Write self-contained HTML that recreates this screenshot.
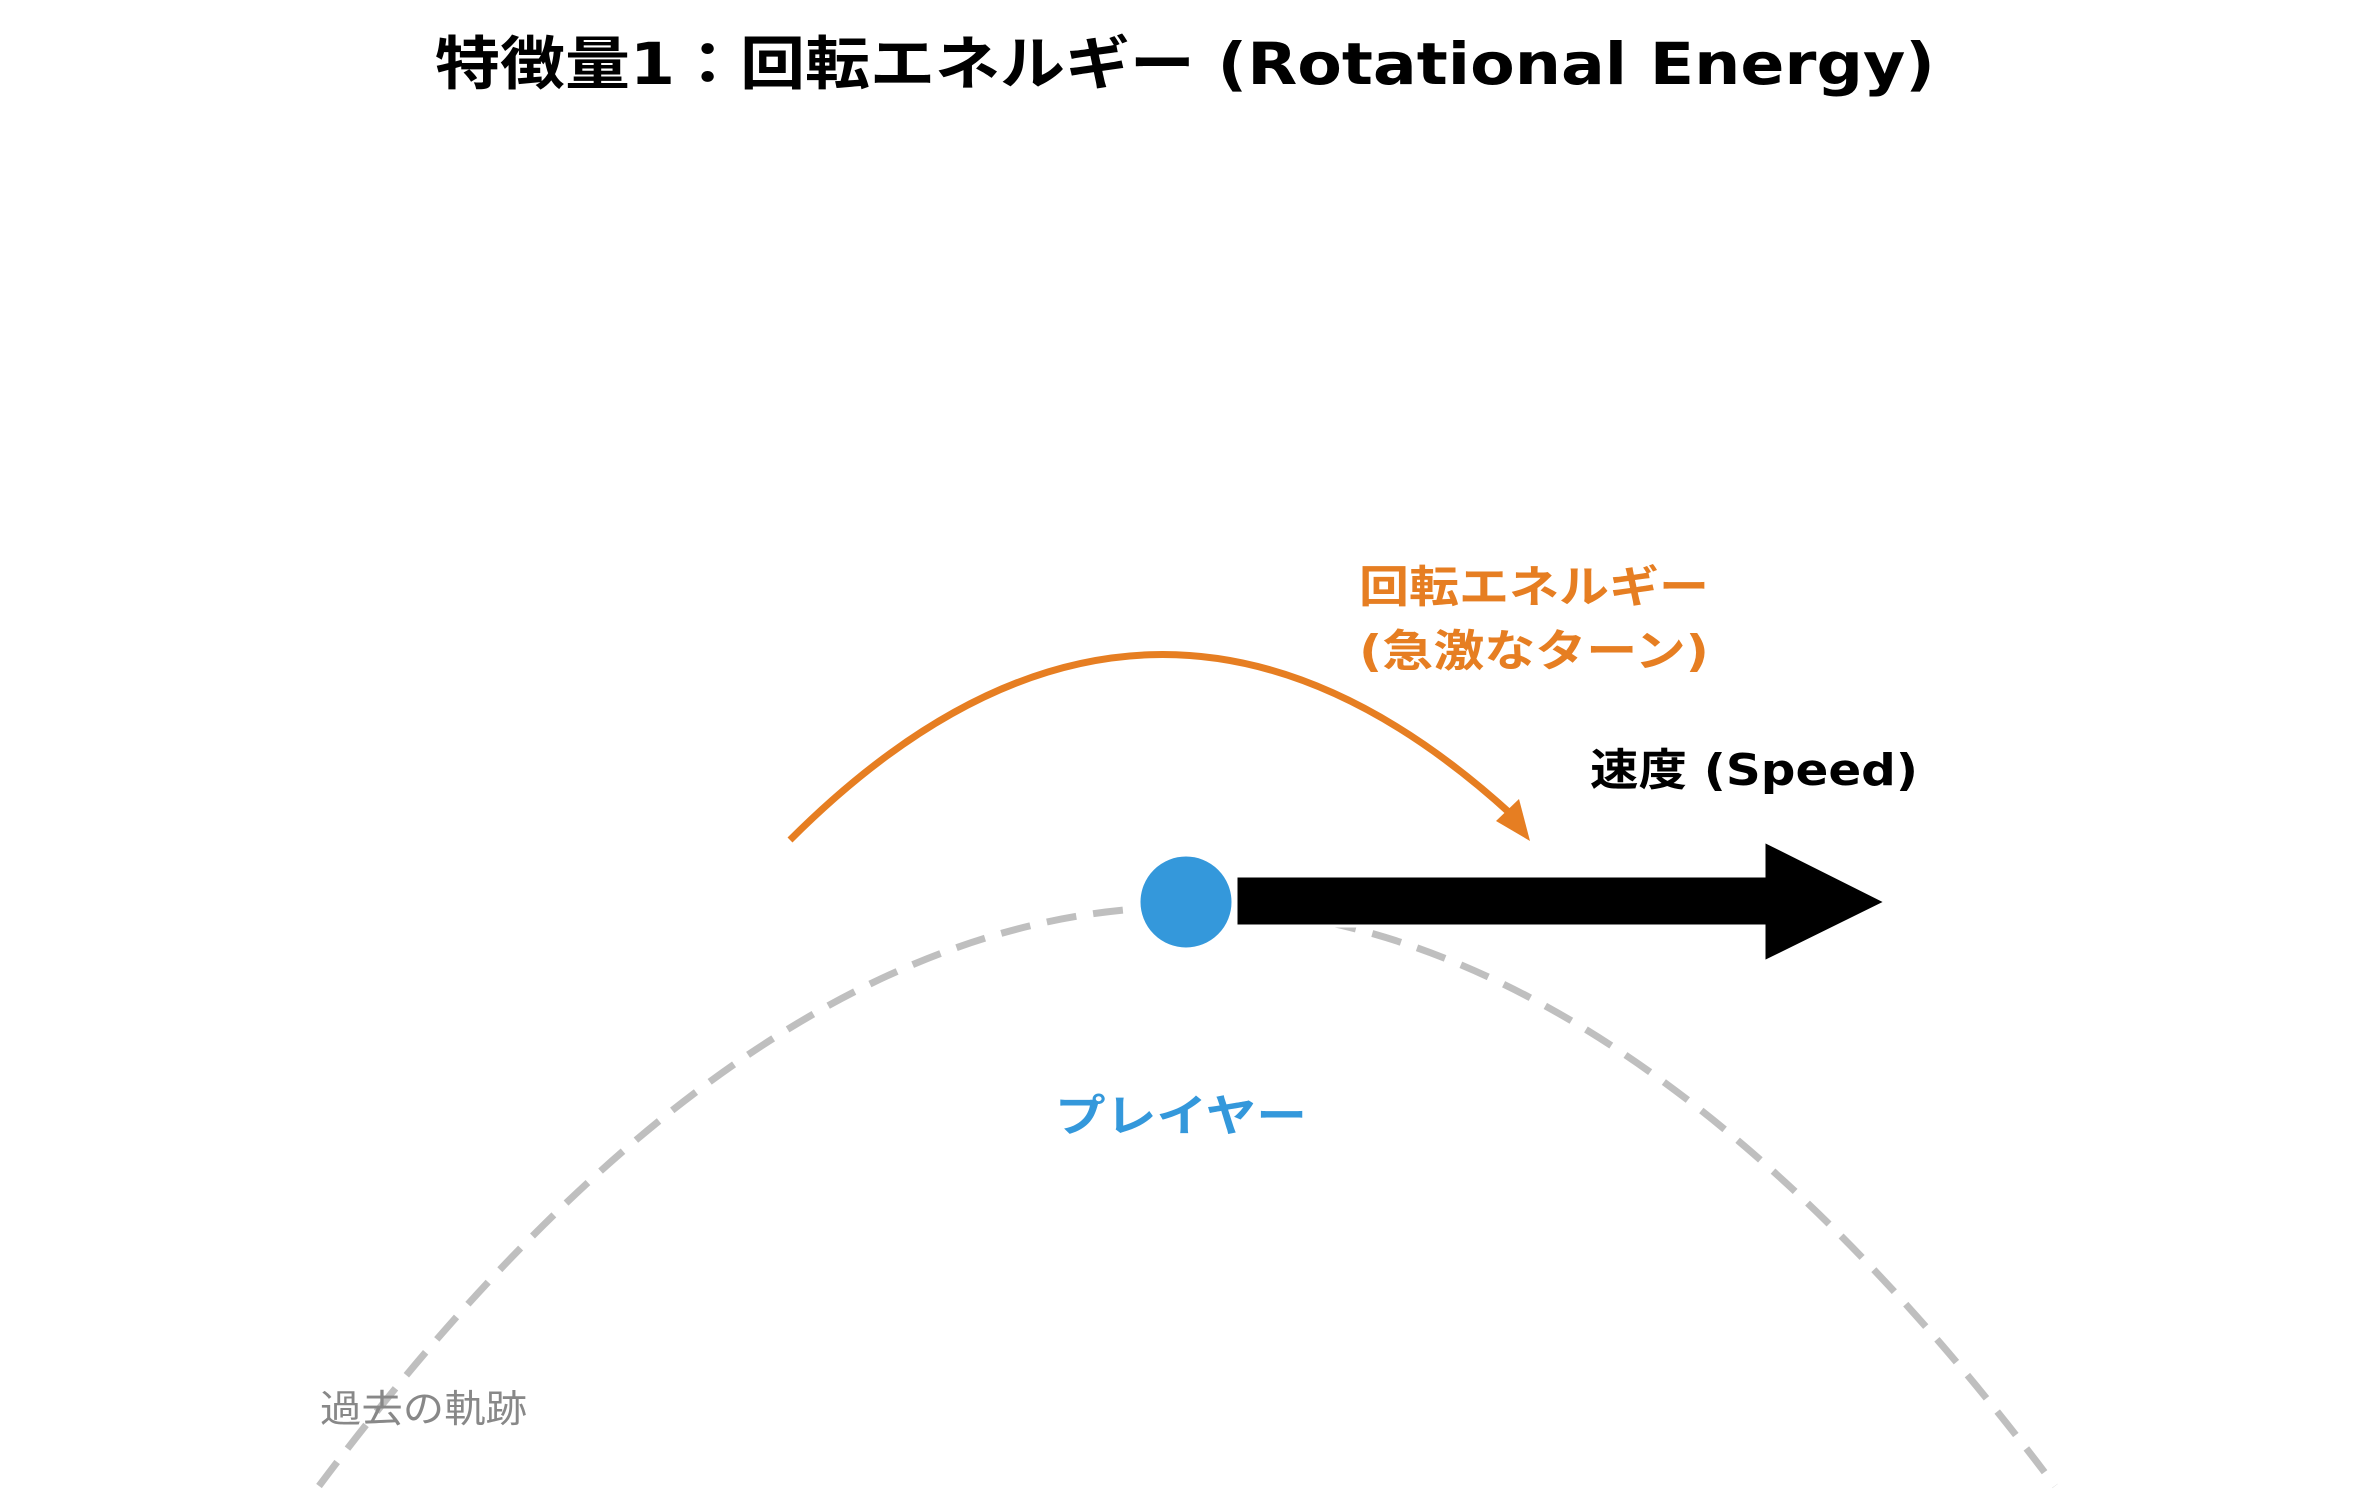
<!DOCTYPE html>
<html><head><meta charset="utf-8"><style>
html,body{margin:0;padding:0;background:#fff;}
svg{display:block;}
text{font-family:"DejaVu Sans","Liberation Sans","Noto Sans CJK JP",sans-serif;}
</style></head><body>
<svg width="2370" height="1509" viewBox="0 0 2370 1509" xmlns="http://www.w3.org/2000/svg">
<text x="1185" y="84" text-anchor="middle" font-size="58" font-weight="bold" fill="#000" textLength="1500" lengthAdjust="spacingAndGlyphs">特徴量1：回転エネルギー (Rotational Energy)</text>

<path d="M319,1486 Q1186,328 2055,1486" fill="none" stroke="#bfbfbf" stroke-width="7" stroke-dasharray="30,17"/>

<path d="M790,840 Q1148,482 1512,815" fill="none" stroke="#e67e22" stroke-width="7"/>
<polygon points="1530,841 1496,821 1519,799" fill="#e67e22"/>

<polygon points="1236,876 1764,876 1764,841 1886,902 1764,962 1764,926 1236,926" fill="#000" stroke="#fff" stroke-width="3"/>
<circle cx="1186" cy="902" r="48" fill="#3498db" stroke="#fff" stroke-width="5"/>

<text x="1359" y="602" font-size="44" font-weight="bold" fill="#e67e22" textLength="350" lengthAdjust="spacingAndGlyphs">回転エネルギー</text>
<text x="1359" y="666" font-size="44" font-weight="bold" fill="#e67e22" textLength="350" lengthAdjust="spacingAndGlyphs">(急激なターン)</text>
<text x="1590" y="785" font-size="44" font-weight="bold" fill="#000" textLength="328" lengthAdjust="spacingAndGlyphs">速度 (Speed)</text>
<text x="1055" y="1131" font-size="44" font-weight="bold" fill="#3498db" textLength="252" lengthAdjust="spacingAndGlyphs">プレイヤー</text>
<text x="320" y="1422" font-size="38" fill="#888" textLength="207" lengthAdjust="spacingAndGlyphs">過去の軌跡</text>
</svg>
</body></html>
